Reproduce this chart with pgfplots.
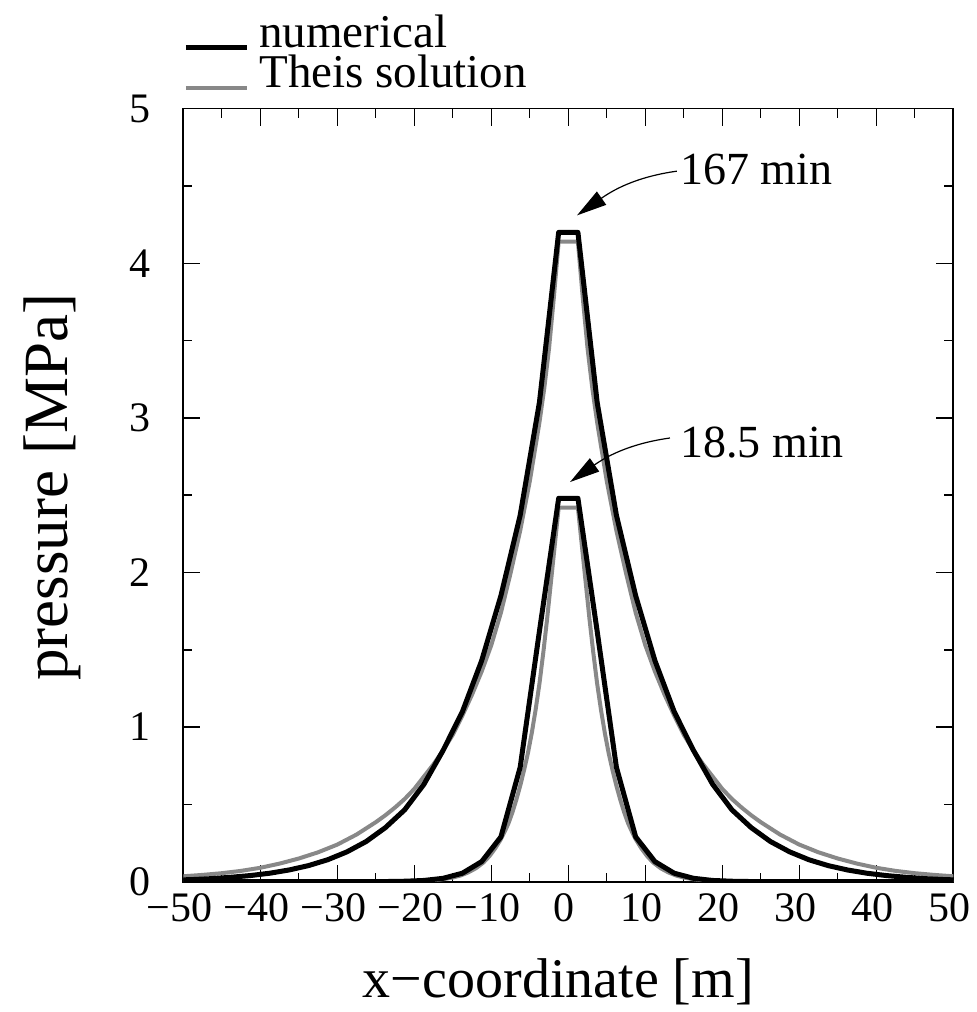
\documentclass[border=0pt]{standalone}
\usepackage{fontspec}
\setmainfont{Liberation Serif}
\usepackage{pgfplots}
\pgfplotsset{compat=1.18}
\usetikzlibrary{arrows.meta}
\definecolor{theis}{RGB}{136,136,136}
\begin{document}
\begin{tikzpicture}
\begin{axis}[
  name=ax,
  scale only axis,
  width=385pt, height=386.5pt,
  xmin=-50, xmax=50, ymin=0, ymax=5,
  axis line style={black, line width=0.8pt},
  xtick={-50,-40,...,50},
  xticklabels={−50,−40,−30,−20,−10,0,10,20,30,40,50},
  minor xtick={-45,-35,...,45},
  ytick={0,1,2,3,4,5},
  yticklabels={0,1,2,3,4,5},
  minor ytick={0.5,1.5,...,4.5},
  tick align=inside,
  tick pos=both,
  major tick length=8.5pt,
  minor tick length=4.5pt,
  tick style={black, line width=0.7pt},
  xticklabel style={font=\fontsize{21}{21}\selectfont, inner sep=0pt, anchor=north, yshift=-5.5pt, xshift=-2pt},
  yticklabel style={font=\fontsize{21}{21}\selectfont, inner sep=0pt, anchor=east, xshift=-16pt},
  xlabel={x−coordinate [m]},
  ylabel={pressure [MPa]},
  xlabel style={font=\fontsize{28}{28}\selectfont, at={(axis description cs:0.5,0)}, anchor=base, yshift=-58pt, xshift=-5pt, inner sep=0pt},
  ylabel style={font=\fontsize{31.5}{31.5}\selectfont, at={(axis description cs:0,0.5)}, anchor=base, yshift=58pt, xshift=4pt, inner sep=0pt},
  legend style={at={(0,1)}, anchor=south west, yshift=7.5pt, draw=none, fill=none,
    font=\fontsize{23.5}{23.5}\selectfont, inner sep=0pt, outer sep=0pt,
    row sep=2pt, column sep=5pt,
    nodes={inner sep=0pt, text height=15pt, text depth=3pt},
    cells={anchor=base west}},
  legend image code/.code={\draw[#1] (0pt,0pt) -- (30.5pt,0pt);},
]
\addlegendimage{black, line width=2.5pt}
\addlegendentry{numerical}
\addlegendimage{theis, line width=2pt}
\addlegendentry{Theis solution}

% Theis solution, 167 min
\addplot[theis, line width=2pt, forget plot] coordinates {
(-50,0.035) (-47.5,0.044) (-45,0.055) (-42.5,0.07) (-40,0.09) (-37.5,0.117) (-35,0.15) (-32.5,0.19) (-30,0.24) (-27.5,0.305) (-25,0.385) (-23.75,0.43) (-22.5,0.48) (-21.25,0.535) (-20,0.60) (-18.75,0.68) (-17.5,0.76) (-16.25,0.85) (-15,0.95) (-13.75,1.075) (-12.5,1.21) (-11.25,1.36) (-10,1.53) (-8.75,1.74) (-7.5,1.995) (-6.25,2.27) (-5,2.59) (-3.75,2.97) (-3.125,3.19) (-2.5,3.45) (-1.875,3.78) (-1.25,4.14)
(1.25,4.14) (1.875,3.78) (2.5,3.45) (3.125,3.19) (3.75,2.97) (5,2.59) (6.25,2.27) (7.5,1.995) (8.75,1.74) (10,1.53) (11.25,1.36) (12.5,1.21) (13.75,1.075) (15,0.95) (16.25,0.85) (17.5,0.76) (18.75,0.68) (20,0.60) (21.25,0.535) (22.5,0.48) (23.75,0.43) (25,0.385) (27.5,0.305) (30,0.24) (32.5,0.19) (35,0.15) (37.5,0.117) (40,0.09) (42.5,0.07) (45,0.055) (47.5,0.044) (50,0.035)
};
% Theis solution, 18.5 min
\addplot[theis, line width=2pt, forget plot] coordinates {
(-50,0) (-25,0) (-23,0.0005) (-21,0.0015) (-19,0.0045) (-17.5,0.009) (-16,0.018) (-15,0.027) (-14,0.04) (-13,0.06) (-12,0.087) (-11,0.125) (-10.25,0.165) (-9.5,0.215) (-8.75,0.275) (-8.25,0.325) (-7.75,0.38) (-7.25,0.45) (-6.75,0.53) (-6.25,0.62) (-5.75,0.72) (-5.25,0.83) (-4.75,0.96) (-4.25,1.11) (-3.75,1.28) (-3.25,1.48) (-2.75,1.70) (-2.25,1.94) (-1.75,2.18) (-1.25,2.42)
(1.25,2.42) (1.75,2.18) (2.25,1.94) (2.75,1.70) (3.25,1.48) (3.75,1.28) (4.25,1.11) (4.75,0.96) (5.25,0.83) (5.75,0.72) (6.25,0.62) (6.75,0.53) (7.25,0.45) (7.75,0.38) (8.25,0.325) (8.75,0.275) (9.5,0.215) (10.25,0.165) (11,0.125) (12,0.087) (13,0.06) (14,0.04) (15,0.027) (16,0.018) (17.5,0.009) (19,0.0045) (21,0.0015) (23,0.0005) (25,0) (50,0)
};
% numerical, 167 min
\addplot[black, line width=2.5pt, line join=round, forget plot] coordinates {
(-50,0.012) (-48.75,0.014) (-46.25,0.020) (-43.75,0.029) (-41.25,0.040) (-38.75,0.055) (-36.25,0.076) (-33.75,0.104) (-31.25,0.142) (-28.75,0.193) (-26.25,0.26) (-23.75,0.35) (-21.25,0.465) (-18.75,0.63) (-16.25,0.85) (-13.75,1.10) (-11.25,1.43) (-8.75,1.85) (-6.25,2.37) (-3.75,3.10) (-1.25,4.20)
(1.25,4.20) (3.75,3.10) (6.25,2.37) (8.75,1.85) (11.25,1.43) (13.75,1.10) (16.25,0.85) (18.75,0.63) (21.25,0.465) (23.75,0.35) (26.25,0.26) (28.75,0.193) (31.25,0.142) (33.75,0.104) (36.25,0.076) (38.75,0.055) (41.25,0.040) (43.75,0.029) (46.25,0.020) (48.75,0.014) (50,0.012)
};
% numerical, 18.5 min
\addplot[black, line width=2.5pt, line join=round, forget plot] coordinates {
(-50,0) (-26.25,0) (-23.75,0.001) (-21.25,0.003) (-18.75,0.008) (-16.25,0.022) (-13.75,0.055) (-11.25,0.13) (-8.75,0.29) (-6.25,0.74) (-3.75,1.62) (-1.25,2.48)
(1.25,2.48) (3.75,1.62) (6.25,0.74) (8.75,0.29) (11.25,0.13) (13.75,0.055) (16.25,0.022) (18.75,0.008) (21.25,0.003) (23.75,0.001) (26.25,0) (50,0)
};

\node[anchor=base west, inner sep=0pt, font=\fontsize{23}{23}\selectfont] at (axis cs:14.5,4.507) {167 min};
\node[anchor=base west, inner sep=0pt, font=\fontsize{23}{23}\selectfont] at (axis cs:14.5,2.747) {18.5 min};
\draw[line width=0.6pt, -{Triangle[length=15pt,width=8pt]}] (axis cs:14.1,4.596) to[out=188,in=35] (axis cs:1.13,4.31);
\draw[line width=0.6pt, -{Triangle[length=15pt,width=8pt]}] (axis cs:13.2,2.87) to[out=188,in=35] (axis cs:0.22,2.585);
\end{axis}
\pgfresetboundingbox
\path[use as bounding box] (-91.65pt,-65.15pt) rectangle (396.35pt,440.85pt);
\end{tikzpicture}
\end{document}
